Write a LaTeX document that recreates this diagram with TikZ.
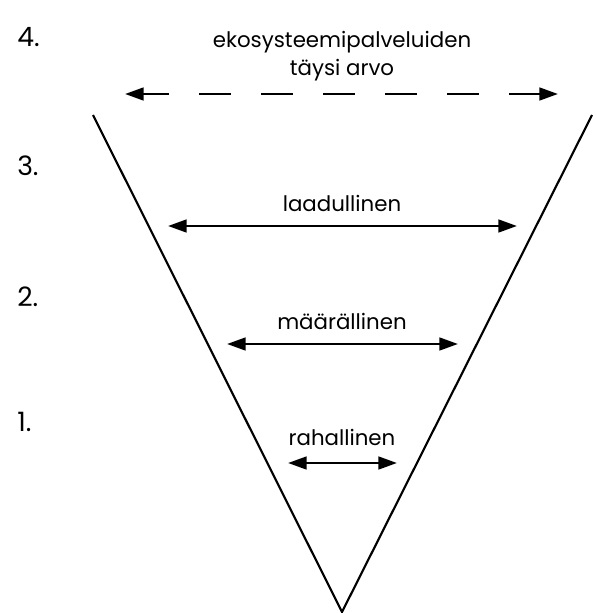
\documentclass[tikz,border=0pt]{standalone}
\usepackage{fontspec}
\setmainfont{Poppins}
\usetikzlibrary{arrows.meta}

\tikzset{
  valuearrow/.style={line width=2pt, <->},
  fullvalue/.style={line width=2pt, <->, dash pattern=on 24pt off 22.5pt, dash phase=4.5pt},
  funnel/.style={line width=1.6pt},
  lbl/.style={anchor=base, inner sep=0pt, font=\fontsize{16}{21}\selectfont},
  level/.style={anchor=base west, inner sep=0pt, font=\fontsize{20}{24}\selectfont}
}

\begin{document}
\begin{tikzpicture}[x=0.75pt, y=-0.75pt, >={Triangle[length=14pt, width=9.5pt]}]
  \useasboundingbox (0,0) rectangle (596,613);
  % funnel
  \coordinate (topleft) at (93,115);
  \coordinate (topright) at (592,115);
  \coordinate (tip) at (342,612);
  \draw [funnel] (topleft) -- (tip) -- (topright);
  % levels
  \node (lev4) at (17,47) [level] {4.};
  \node (lev3) at (17,175) [level] {3.};
  \node (lev2) at (17,306) [level] {2.};
  \node (lev1) at (17,431) [level] {1.};
  % value ranges
  \node (full) at (342,56) [lbl, anchor=center, align=center] {ekosysteemipalveluiden\\täysi arvo};
  \coordinate (fullL) at (125,94);
  \coordinate (fullR) at (558,94);
  \draw [fullvalue] (fullL) -- (fullR);
  \node (qual) at (342,211) [lbl] {laadullinen};
  \coordinate (qualL) at (168,226);
  \coordinate (qualR) at (517,226);
  \draw [valuearrow] (qualL) -- (qualR);
  \node (quant) at (342,329) [lbl] {määrällinen};
  \coordinate (quantL) at (227,344);
  \coordinate (quantR) at (458,344);
  \draw [valuearrow] (quantL) -- (quantR);
  \node (money) at (342,445) [lbl] {rahallinen};
  \coordinate (moneyL) at (288,463);
  \coordinate (moneyR) at (397,463);
  \draw [valuearrow] (moneyL) -- (moneyR);
\end{tikzpicture}
\end{document}
